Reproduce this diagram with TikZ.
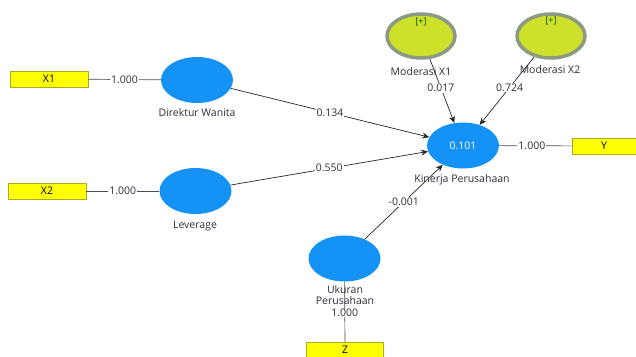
\documentclass[tikz,border=0pt]{standalone}
\usepackage{fontspec}
\setmainfont{Open Sans}
\usetikzlibrary{shapes.geometric,arrows.meta}
\definecolor{lvblue}{RGB}{21,146,245}
\definecolor{indyellow}{RGB}{255,255,0}
\definecolor{indborder}{RGB}{170,170,40}
\definecolor{modfill}{RGB}{205,225,42}
\definecolor{modrim}{RGB}{140,154,132}
\definecolor{txtgrey}{RGB}{45,45,60}
\begin{document}
\begin{tikzpicture}[x=1pt,y=-1pt,
    font=\fontsize{10.5}{12}\selectfont,
    latent/.style={ellipse,fill=lvblue,draw=none,minimum width=72pt,minimum height=46pt,inner sep=0pt},
    moder/.style={ellipse,fill=modfill,draw=modrim,line width=3.5pt,minimum width=68pt,minimum height=44pt,inner sep=0pt},
    indic/.style={rectangle,fill=indyellow,draw=indborder,line width=0.5pt,minimum width=78pt,minimum height=16pt,inner sep=0pt},
    lvname/.style={text=txtgrey},
    coef/.style={fill=white,inner sep=1pt,text=txtgrey},
    inner/.style={draw=black!85,line width=0.7pt,-{Stealth[length=7pt,width=6pt]}},
    outer/.style={draw=black!70,line width=0.7pt}]
  \useasboundingbox (0,0) rectangle (636,356);

  \node[indic] (X1) at (49,79){X1};
  \node[indic] (X2) at (47,191){X2};
  \node[indic,minimum width=64pt] (Y) at (604,146){Y};
  \node[indic,minimum width=77pt] (Z) at (345,350){Z};

  \node[latent] (DW) at (197,80){};
  \node[latent] (LEV) at (195.5,191){};
  \node[latent,text=white] (KP) at (463,145.5){0.101};
  \node[latent] (UP) at (344.5,258.5){};
  \node[moder] (MX1) at (421,36){};
  \node[moder] (MX2) at (551,36){};
  \node[text=black!70!green,font=\fontsize{9}{10}\selectfont] (MX1p) at (421,22){[+]};
  \node[text=black!70!green,font=\fontsize{9}{10}\selectfont] (MX2p) at (551,21){[+]};

  \draw (X1) edge[outer] node[coef]{1.000} (DW);
  \draw (X2) edge[outer] node[coef]{1.000} (LEV);
  \draw (KP) edge[outer] node[coef,pos=0.45]{1.000} (Y);
  \draw (UP) edge[outer] node[coef,pos=0.52,inner sep=0.5pt]{1.000} (Z);

  \draw (DW) edge[inner] node[coef,pos=0.5]{0.134} (KP);
  \draw (LEV) edge[inner] node[coef,pos=0.5]{0.550} (KP);
  \draw (MX1) edge[inner] node[coef,pos=0.45]{0.017} (KP);
  \draw (MX2) edge[inner] node[coef,pos=0.45]{0.724} (KP);
  \draw (UP) edge[inner] node[coef,pos=0.5]{-0.001} (KP);

  \node[lvname] (DWn) at (197,113){Direktur Wanita};
  \node[lvname] (LEVn) at (195,226){Leverage};
  \node[lvname] (KPn) at (462,180){Kinerja Perusahaan};
  \node[lvname,align=center,inner sep=0pt,font=\fontsize{10.5}{11}\selectfont] (UPn) at (345,295){Ukuran\\Perusahaan};
  \node[lvname] (MX1n) at (421,72){Moderasi X1};
  \node[lvname] (MX2n) at (550,70){Moderasi X2};
\end{tikzpicture}
\end{document}
